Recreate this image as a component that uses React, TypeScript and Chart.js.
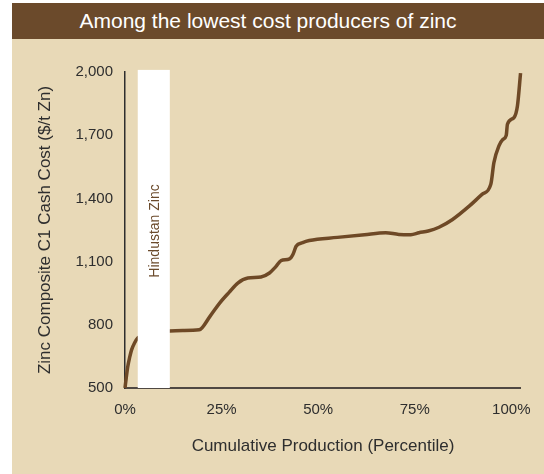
import React, { useEffect, useRef } from "react";
import { Chart, registerables } from "chart.js";

Chart.register(...registerables);

const titleText = "Among the lowest cost producers of zinc";
const xTitle = "Cumulative Production (Percentile)";
const yTitle = "Zinc Composite C1 Cash Cost ($/t Zn)";
const barLabel = "Hindustan Zinc";

const percentile = [0, 0.3, 0.7, 1.2, 1.7, 2.5, 3.3, 5, 8, 11.6, 15, 19.2, 22, 24.5, 27, 29.2, 31.8, 35.2, 37.4, 39, 40.4, 42.6, 43.5, 44.3, 46, 47.7, 55, 62, 67.5, 70.9, 74, 76.1, 78.5, 81.3, 84.8, 89.1, 92.5, 94.7, 95.5, 96.8, 97.8, 98.7, 99, 100.7, 101.6, 102.4];
const cashCost = [500, 545, 600, 645, 681, 715, 738, 752, 763, 771, 773, 776, 840, 903, 955, 998, 1022, 1027, 1046, 1075, 1105, 1113, 1135, 1173, 1190, 1200, 1215, 1228, 1237, 1229, 1228, 1237, 1245, 1263, 1300, 1363, 1420, 1467, 1570, 1649, 1680, 1700, 1752, 1784, 1840, 1995];

const xTicks = [0, 25, 50, 75, 100];
const yTicks = [500, 800, 1100, 1400, 1700, 2000];

const barRange = [3.3, 11.6];
const barCost = [500, 2010];

const FONT = "'Liberation Sans', Arial, Helvetica, sans-serif";
const BEIGE = "#E8D9B7";
const BROWN = "#6B4A2B";
const TEXT = "#2e2e2e";

export default function App() {
  const ref = useRef<HTMLCanvasElement | null>(null);

  useEffect(() => {
    const canvas = ref.current;
    if (!canvas) return;

    const barPlugin = {
      id: "hindustanBar",
      afterDatasetsDraw(chart: any) {
        const { ctx, scales } = chart;
        const x0 = scales.x.getPixelForValue(barRange[0]);
        const x1 = scales.x.getPixelForValue(barRange[1]);
        const y0 = scales.y.getPixelForValue(barCost[1]);
        const y1 = scales.y.getPixelForValue(barCost[0]);
        ctx.save();
        ctx.fillStyle = "#ffffff";
        ctx.fillRect(x0, y0, x1 - x0, y1 - y0);
        ctx.translate((x0 + x1) / 2 + 1, (y0 + y1) / 2 + 2);
        ctx.rotate(-Math.PI / 2);
        ctx.fillStyle = BROWN;
        ctx.font = `14px ${FONT}`;
        ctx.textAlign = "center";
        ctx.textBaseline = "middle";
        ctx.fillText(barLabel, 0, 0);
        ctx.restore();
      },
    };

    const chart = new Chart(canvas, {
      type: "line",
      data: {
        datasets: [
          {
            data: percentile.map((p, i) => ({ x: p, y: cashCost[i] })),
            borderColor: "#6E4926",
            borderWidth: 3.5,
            pointRadius: 0,
            cubicInterpolationMode: "monotone",
            fill: false,
            clip: false as any,
          },
        ],
      },
      options: {
        animation: false,
        responsive: false,
        maintainAspectRatio: false,
        layout: { padding: { left: 0, right: 22, top: 33, bottom: 0 } },
        plugins: {
          legend: { display: false },
          tooltip: { enabled: false },
        },
        scales: {
          x: {
            type: "linear",
            min: 0,
            max: 102.5,
            afterBuildTicks: (scale: any) => {
              scale.ticks = xTicks.map((v) => ({ value: v }));
            },
            afterFit: (scale: any) => {
              scale.height = 86;
            },
            grid: { display: false, drawTicks: false },
            border: { display: true, color: "#4f4842", width: 2 },
            ticks: {
              padding: 13,
              color: TEXT,
              font: { family: FONT, size: 15 },
              maxRotation: 0,
              callback: (v: any) => `${v}%`,
            },
            title: {
              display: true,
              text: xTitle,
              color: TEXT,
              font: { family: FONT, size: 17 },
              padding: { top: 0, bottom: 17 },
            },
          },
          y: {
            type: "linear",
            min: 500,
            max: 2000,
            afterBuildTicks: (scale: any) => {
              scale.ticks = yTicks.map((v) => ({ value: v }));
            },
            afterFit: (scale: any) => {
              scale.width = 113;
            },
            grid: { display: false, drawTicks: false },
            border: { display: true, color: "#2e2e2e", width: 1.5 },
            ticks: {
              padding: 12,
              color: TEXT,
              font: { family: FONT, size: 15 },
              callback: (v: any) => Number(v).toLocaleString("en-US"),
            },
            title: {
              display: true,
              text: yTitle,
              color: TEXT,
              font: { family: FONT, size: 17 },
              padding: { top: 23, bottom: 0 },
            },
          },
        },
      },
      plugins: [barPlugin],
    });

    return () => chart.destroy();
  }, []);

  return (
    <div style={{ position: "fixed", left: 0, top: 0, width: 544, height: 474, background: "#ffffff" }}>
      <div style={{ position: "absolute", left: 12, top: 3, width: 532, height: 471, background: BEIGE }}>
        <div
          style={{
            height: 36,
            background: BROWN,
            color: "#ffffff",
            fontFamily: FONT,
            fontSize: 21,
            lineHeight: "36px",
            textAlign: "center",
            paddingRight: 20,
            boxSizing: "border-box",
            whiteSpace: "nowrap",
          }}
        >
          {titleText}
        </div>
        <canvas ref={ref} width={532} height={435} style={{ display: "block", width: 532, height: 435 }} />
      </div>
    </div>
  );
}
